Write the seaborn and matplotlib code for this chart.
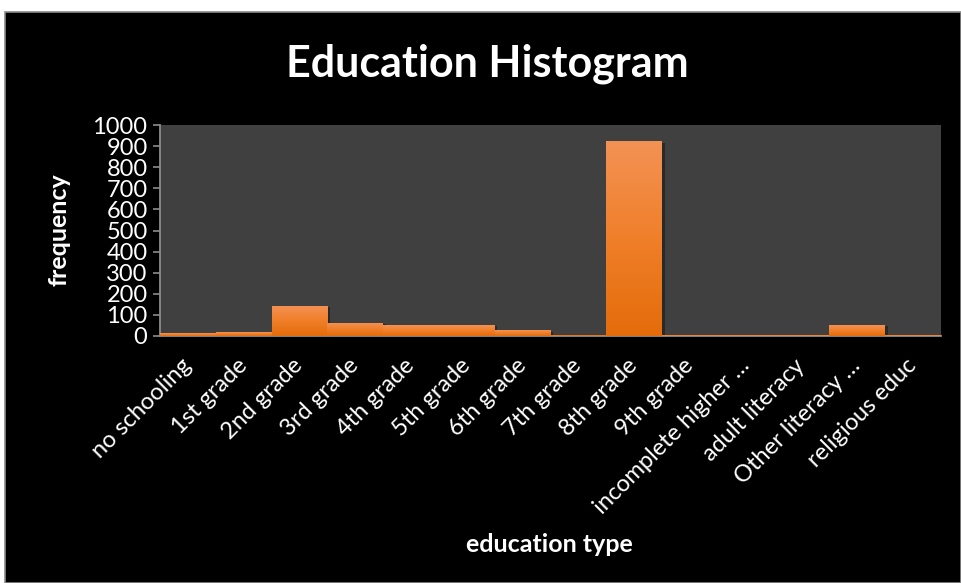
import numpy as np
import pandas as pd
import matplotlib
matplotlib.use("Agg")
import matplotlib.pyplot as plt
import matplotlib.patheffects as pe
from matplotlib.patches import Rectangle
from matplotlib.colors import LinearSegmentedColormap
import seaborn as sns

# Education level counts
categories = [
    "no schooling", "1st grade", "2nd grade", "3rd grade", "4th grade",
    "5th grade", "6th grade", "7th grade", "8th grade", "9th grade",
    "incomplete higher \u2026", "adult literacy", "Other literacy \u2026",
    "religious educ",
]
frequency = [12, 18, 143, 63, 52, 52, 27, 5, 922, 4, 4, 4, 52, 4]
y_ticks = list(range(0, 1001, 100))

df = pd.DataFrame({"education type": categories, "frequency": frequency})

sns.set_theme(style="dark")
plt.rcParams["font.family"] = ["Lato", "DejaVu Sans"]

W, H = 961, 583
fig = plt.figure(figsize=(W / 100, H / 100), dpi=100, facecolor="white")

# black chart panel
fig.patches.append(Rectangle((5 / W, 0), 1 - 5 / W, (H - 12) / H,
                             transform=fig.transFigure, facecolor="black",
                             edgecolor="#8c8c8c", linewidth=1.2, zorder=0))

ax = fig.add_axes([160 / W, (H - 336) / H, (941 - 160) / W, (336 - 125) / H])
ax.set_zorder(2)
ax.set_facecolor("#404040")

sns.barplot(data=df, x="education type", y="frequency", color="#F07F2A",
            width=1.0, saturation=1, linewidth=0, edgecolor="none",
            ax=ax, zorder=2)

# vertical orange gradient inside each bar
grad = LinearSegmentedColormap.from_list("bar", ["#E46C0A", "#F07F2A", "#F39255"])
gimg = np.linspace(0, 1, 256).reshape(-1, 1)
for p in list(ax.patches):
    x0, y0 = p.get_x(), p.get_y()
    w, h = p.get_width(), p.get_height()
    p.set_path_effects([pe.SimplePatchShadow(offset=(2, -1), shadow_rgbFace="black",
                                             alpha=0.35), pe.Normal()])
    im = ax.imshow(gimg, cmap=grad, aspect="auto", origin="lower",
                   extent=(x0, x0 + w, y0, y0 + h), zorder=3)
    im.set_clip_path(p)

ax.set_xlim(-0.5, len(categories) - 0.5)
ax.set_ylim(0, 1000)
ax.set_yticks(y_ticks)

for s in ["top", "right"]:
    ax.spines[s].set_visible(False)
for s in ["left", "bottom"]:
    ax.spines[s].set_visible(True)
    ax.spines[s].set_color("#8c8c8c")
    ax.spines[s].set_linewidth(1.3)
    ax.spines[s].set_zorder(1.5)
ax.grid(False)

ax.tick_params(axis="y", colors="#8c8c8c", labelcolor="white", length=5,
               width=1.2, direction="out", left=True, labelsize=17, pad=4)
ax.tick_params(axis="x", bottom=False, labelcolor="white", labelsize=17, pad=13)
plt.setp(ax.get_xticklabels(), rotation=45, ha="right", va="center",
         rotation_mode="anchor")
ax.set_xlabel("")
ax.set_ylabel("")

fig.text(487 / W, (H - 77) / H, "Education Histogram", color="white",
         fontsize=31, fontweight="bold", ha="center", va="baseline")
fig.text(59 / W, (H - 230) / H, "frequency", color="white", fontsize=18,
         fontweight="bold", rotation=90, ha="center", va="center")
fig.text(549 / W, (H - 545) / H, "education type", color="white", fontsize=18,
         fontweight="bold", ha="center", va="center")

fig.savefig("out.png", dpi=100, facecolor="white")
